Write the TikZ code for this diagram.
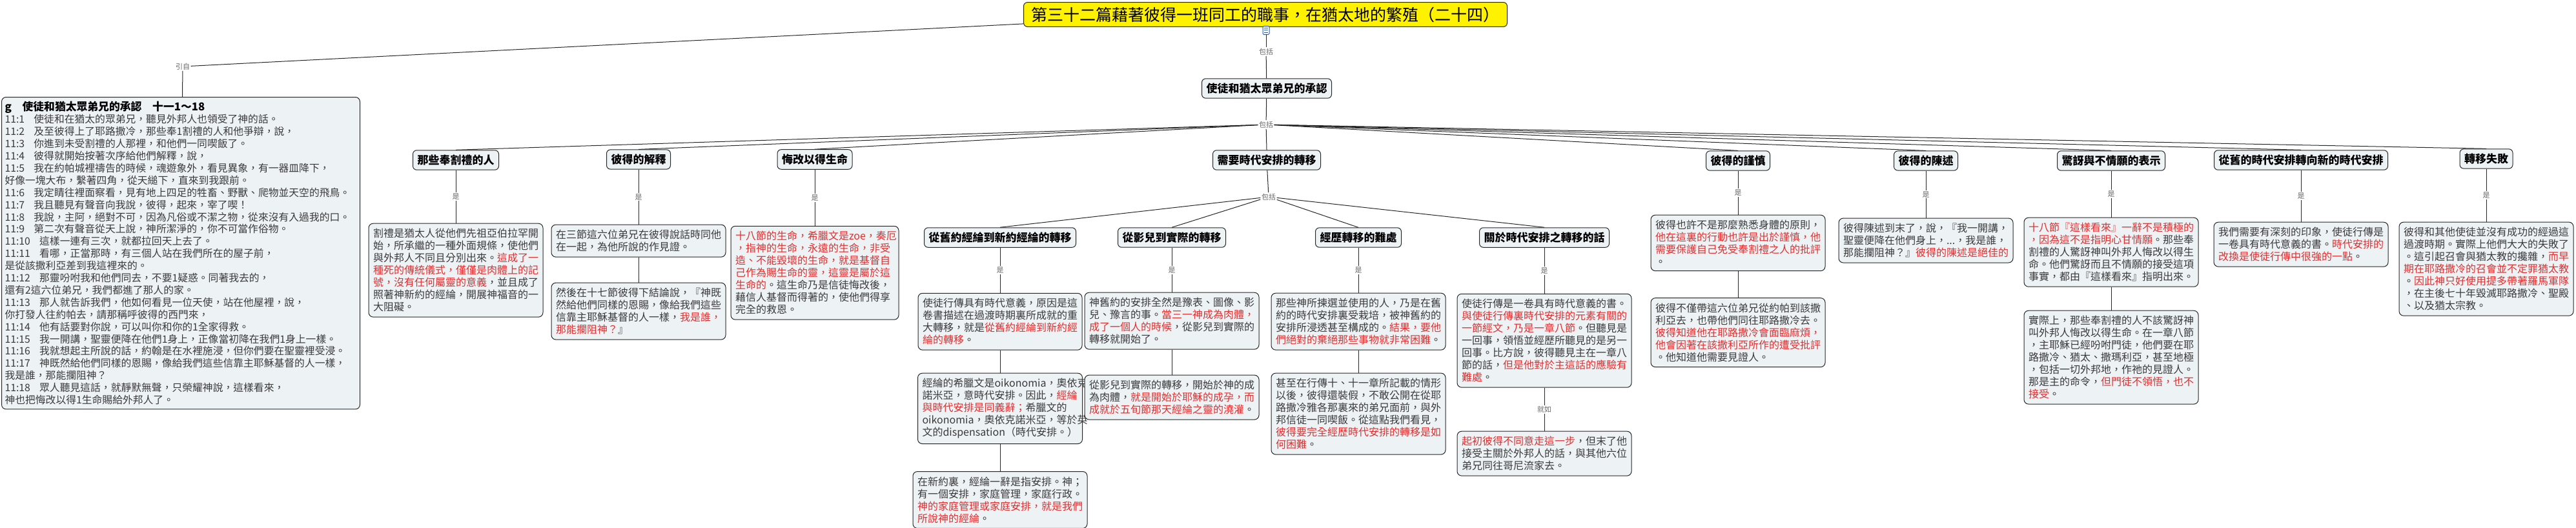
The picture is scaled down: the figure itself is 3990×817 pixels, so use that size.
\documentclass[tikz,border=0pt]{standalone}
\usepackage{fontspec}
\setmainfont{Noto Sans CJK TC}
\usetikzlibrary{positioning}

\definecolor{boxfill}{RGB}{237,242,245}
\definecolor{txtgray}{RGB}{58,58,58}
\definecolor{hlred}{RGB}{228,45,45}
\definecolor{taggray}{RGB}{105,105,105}
\definecolor{iconblue}{RGB}{40,90,170}
\newcommand{\rtxt}[1]{\textcolor{hlred}{#1}}
\newcommand{\vno}[1]{#1\hspace{0.9em}}

\tikzset{
  topicbox/.style={draw=black!85, line width=1pt, rounded corners=6pt, fill=yellow, inner xsep=12pt, inner ysep=7pt, font=\fontsize{25}{28}\selectfont},
  headbox/.style={draw=black!85, line width=1pt, rounded corners=6pt, fill=boxfill, inner xsep=7pt, inner ysep=7pt, font=\bfseries\fontsize{17}{20}\selectfont},
  notebox/.style={draw=black!85, line width=1pt, rounded corners=7pt, fill=boxfill, inner xsep=7pt, inner ysep=8pt, text width=256pt, align=left, text=txtgray, font=\fontsize{16}{19}\selectfont},
  versebox/.style={draw=black!85, line width=1pt, rounded corners=7pt, fill=boxfill, inner xsep=5pt, inner ysep=7pt, text width=545pt, align=left, text=txtgray, font=\fontsize{15.8}{18.9}\selectfont},
  tagtext/.style={fill=white, inner sep=1.5pt, text=taggray, font=\fontsize{11}{12}\selectfont},
  noteico/.style={draw=iconblue, line width=1pt, fill=white, rounded corners=1.5pt, minimum width=10pt, minimum height=13pt, inner sep=0pt},
  linkline/.style={draw=black!85, line width=1pt},
}

\begin{document}
\begin{tikzpicture}[x=1pt, y=-1pt]
\useasboundingbox (0,0) rectangle (3990,817);

\node[topicbox] (root) at (1960,22.5) {第三十二篇藉著彼得一班同工的職事，在猶太地的繁殖（二十四）};
\node[noteico] (icon) at (1961,47) {};
\draw[iconblue, line width=0.7pt] (1958,43) -- (1964,43) (1958,46.5) -- (1964,46.5) (1958,50) -- (1964,50);
\node[tagtext] (inc1) at (1961,80) {包括};
\node[headbox] (hub) at (1962,137) {使徒和猶太眾弟兄的承認};
\node[tagtext] (inc2) at (1961,193) {包括};

\node[tagtext] (quote) at (283,103) {引自};
\node[versebox, anchor=north] (verse) at (280,150) {%
{\color{black}\bfseries\fontsize{16.8}{18.9}\selectfont g\hspace{1em}使徒和猶太眾弟兄的承認\hspace{1em}十一1～18}\\
\vno{11:1}使徒和在猶太的眾弟兄，聽見外邦人也領受了神的話。\\
\vno{11:2}及至彼得上了耶路撒冷，那些奉1割禮的人和他爭辯，說，\\
\vno{11:3}你進到未受割禮的人那裡，和他們一同喫飯了。\\
\vno{11:4}彼得就開始按著次序給他們解釋，說，\\
\vno{11:5}我在約帕城裡禱告的時候，魂遊象外，看見異象，有一器皿降下，\\
好像一塊大布，繫著四角，從天縋下，直來到我跟前。\\
\vno{11:6}我定睛往裡面察看，見有地上四足的牲畜、野獸、爬物並天空的飛鳥。\\
\vno{11:7}我且聽見有聲音向我說，彼得，起來，宰了喫！\\
\vno{11:8}我說，主阿，絕對不可，因為凡俗或不潔之物，從來沒有入過我的口。\\
\vno{11:9}第二次有聲音從天上說，神所潔淨的，你不可當作俗物。\\
\vno{11:10}這樣一連有三次，就都拉回天上去了。\\
\vno{11:11}看哪，正當那時，有三個人站在我們所在的屋子前，\\
是從該撒利亞差到我這裡來的。\\
\vno{11:12}那靈吩咐我和他們同去，不要1疑惑。同著我去的，\\
還有2這六位弟兄，我們都進了那人的家。\\
\vno{11:13}那人就告訴我們，他如何看見一位天使，站在他屋裡，說，\\
你打發人往約帕去，請那稱呼彼得的西門來，\\
\vno{11:14}他有話要對你說，可以叫你和你的1全家得救。\\
\vno{11:15}我一開講，聖靈便降在他們1身上，正像當初降在我們1身上一樣。\\
\vno{11:16}我就想起主所說的話，約翰是在水裡施浸，但你們要在聖靈裡受浸。\\
\vno{11:17}神既然給他們同樣的恩賜，像給我們這些信靠主耶穌基督的人一樣，\\
我是誰，那能攔阻神？\\
\vno{11:18}眾人聽見這話，就靜默無聲，只榮耀神說，這樣看來，\\
神也把悔改以得1生命賜給外邦人了。};

\node[headbox] (h1) at (706,248) {那些奉割禮的人};
\node[headbox] (h2) at (989,247) {彼得的解釋};
\node[headbox] (h3) at (1262,247) {悔改以得生命};
\node[headbox] (h4) at (1962,248) {需要時代安排的轉移};
\node[headbox] (h5) at (2692,249) {彼得的謹慎};
\node[headbox] (h6) at (2983,249) {彼得的陳述};
\node[headbox] (h7) at (3270,249) {驚訝與不情願的表示};
\node[headbox] (h8) at (3564,248) {從舊的時代安排轉向新的時代安排};
\node[headbox] (h9) at (3851,246) {轉移失敗};

\node[tagtext] (inc3) at (1965,305) {包括};
\node[headbox] (s1) at (1549,368) {從舊約經綸到新約經綸的轉移};
\node[headbox] (s2) at (1815,368) {從影兒到實際的轉移};
\node[headbox] (s3) at (2104,368) {經歷轉移的難處};
\node[headbox] (s4) at (2392,368) {關於時代安排之轉移的話};

\node[notebox, below=82pt of h1] (b1) {割禮是猶太人從他們先祖亞伯拉罕開\\
始，所承繼的一種外面規條，使他們\\
與外邦人不同且分別出來。\rtxt{這成了一}\\
\rtxt{種死的傳統儀式，僅僅是肉體上的記}\\
\rtxt{號，沒有任何屬靈的意義}，並且成了\\
照著神新約的經綸，開展神福音的一\\
大阻礙。};
\node[notebox, below=85pt of h2] (b2) {在三節這六位弟兄在彼得說話時同他\\
在一起，為他所說的作見證。};
\node[notebox, below=39pt of b2] (b3) {然後在十七節彼得下結論說，『神既\\
然給他們同樣的恩賜，像給我們這些\\
信靠主耶穌基督的人一樣，\rtxt{我是誰，}\\
\rtxt{那能攔阻神？}』};
\node[notebox, text width=246pt, below=87pt of h3] (b4) {\rtxt{十八節的生命，希臘文是zoe，奏厄}\\
\rtxt{，指神的生命，永遠的生命，非受}\\
\rtxt{造、不能毀壞的生命，就是基督自}\\
\rtxt{己作為賜生命的靈，這靈是屬於這}\\
\rtxt{生命的}。這生命乃是信徒悔改後，\\
藉信人基督而得著的，使他們得享\\
完全的救恩。};

\node[notebox, text width=240pt, below=70pt of s1] (m1) {使徒行傳具有時代意義，原因是這\\
卷書描述在過渡時期裏所成就的重\\
大轉移，就是\rtxt{從舊約經綸到新約經}\\
\rtxt{綸的轉移}。};
\node[notebox, text width=241pt, below=35pt of m1] (m2) {經綸的希臘文是oikonomia，奧依克\\
諾米亞，意時代安排。因此，\rtxt{經綸}\\
\rtxt{與時代安排是同義辭；}希臘文的\\
oikonomia，奧依克諾米亞，等於英\\
文的dispensation（時代安排。）};
\node[notebox, below=42pt of m2] (m3) {在新約裏，經綸一辭是指安排。神；\\
有一個安排，家庭管理，家庭行政。\\
\rtxt{神的家庭管理或家庭安排，就是我們}\\
\rtxt{所說神的經綸}。};
\node[notebox, below=69pt of s2] (m4) {神舊約的安排全然是豫表、圖像、影\\
兒、豫言的事。\rtxt{當三一神成為肉體，}\\
\rtxt{成了一個人的時候}，從影兒到實際的\\
轉移就開始了。};
\node[notebox, below=39pt of m4] (m5) {從影兒到實際的轉移，開始於神的成\\
為肉體，\rtxt{就是開始於耶穌的成孕，而}\\
\rtxt{成就於五旬節那天經綸之靈的澆灌}。};
\node[notebox, below=70pt of s3] (m6) {那些神所揀選並使用的人，乃是在舊\\
約的時代安排裏受栽培，被神舊約的\\
安排所浸透甚至構成的。\rtxt{結果，要他}\\
\rtxt{們絕對的棄絕那些事物就非常困難}。};
\node[notebox, below=35pt of m6] (m7) {甚至在行傳十、十一章所記載的情形\\
以後，彼得還裝假，不敢公開在從耶\\
路撒冷雅各那裏來的弟兄面前，與外\\
邦信徒一同喫飯。從這點我們看見，\\
\rtxt{彼得要完全經歷時代安排的轉移是如}\\
\rtxt{何困難}。};
\node[notebox, below=71pt of s4] (m8) {使徒行傳是一卷具有時代意義的書。\\
\rtxt{與使徒行傳裏時代安排的元素有關的}\\
\rtxt{一節經文，乃是一章八節}。但聽見是\\
一回事，領悟並經歷所聽見的是另一\\
回事。比方說，彼得聽見主在一章八\\
節的話，\rtxt{但是他對於主這話的應驗有}\\
\rtxt{難處}。};
\node[notebox, below=67pt of m8] (m9) {\rtxt{起初彼得不同意走這一步}，但末了他\\
接受主關於外邦人的話，與其他六位\\
弟兄同往哥尼流家去。};

\node[notebox, below=68pt of h5] (r1) {彼得也許不是那麼熟悉身體的原則，\\
\rtxt{他在這裏的行動也許是出於謹慎，他}\\
\rtxt{需要保護自己免受奉割禮之人的批評}\\
。};
\node[notebox, below=41pt of r1] (r2) {彼得不僅帶這六位弟兄從約帕到該撒\\
利亞去，也帶他們同往耶路撒冷去。\\
\rtxt{彼得知道他在耶路撒冷會面臨麻煩，}\\
\rtxt{他會因著在該撒利亞所作的遭受批評}\\
。他知道他需要見證人。};
\node[notebox, below=73pt of h6] (r3) {彼得陳述到末了，說，『我一開講，\\
聖靈便降在他們身上，...，我是誰，\\
那能攔阻神？』\rtxt{彼得的陳述是絕佳的}};
\node[notebox, below=72pt of h7] (r4) {\rtxt{十八節『這樣看來』一辭不是積極的}\\
\rtxt{，因為這不是指明心甘情願}。那些奉\\
割禮的人驚訝神叫外邦人悔改以得生\\
命。他們驚訝而且不情願的接受這項\\
事實，都由『這樣看來』指明出來。};
\node[notebox, below=36pt of r4] (r5) {實際上，那些奉割禮的人不該驚訝神\\
叫外邦人悔改以得生命。在一章八節\\
，主耶穌已經吩咐門徒，他們要在耶\\
路撒冷、猶太、撒瑪利亞，甚至地極\\
，包括一切外邦地，作祂的見證人。\\
那是主的命令，\rtxt{但門徒不領悟，也不}\\
\rtxt{接受}。};
\node[notebox, below=80pt of h8] (r6) {我們需要有深刻的印象，使徒行傳是\\
一卷具有時代意義的書。\rtxt{時代安排的}\\
\rtxt{改換是使徒行傳中很強的一點}。};
\node[notebox, below=82pt of h9] (r7) {彼得和其他使徒並沒有成功的經過這\\
過渡時期。實際上他們大大的失敗了\\
。這引起召會與猶太教的攙雜，\rtxt{而早}\\
\rtxt{期在耶路撒冷的召會並不定罪猶太教}\\
。\rtxt{因此神只好使用提多帶著羅馬軍隊}\\
，在主後七十年毀滅耶路撒冷、聖殿\\
、以及猶太宗教。};

\draw[linkline] (quote) -- ([yshift=5pt]root.south west);
\draw[linkline] (quote) -- (verse);
\draw[linkline] (icon) -- (inc1);
\draw[linkline] (inc1) -- (hub);
\draw[linkline] (hub) -- (inc2);
\foreach \t in {h1,h2,h3,h4,h5,h6,h7,h8,h9}
  \draw[linkline] (inc2) -- (\t.north);
\draw[linkline] (h4) -- (inc3);
\foreach \t in {s1,s2,s3,s4}
  \draw[linkline] (inc3) -- (\t.north);

\draw[linkline] (h1) -- node[tagtext] (is1) {是} (b1);
\draw[linkline] (h2) -- node[tagtext] (is2) {是} (b2);
\draw[linkline] (h3) -- node[tagtext] (is3) {是} (b4);
\draw[linkline] (s1) -- node[tagtext] (is4) {是} (m1);
\draw[linkline] (s2) -- node[tagtext] (is5) {是} (m4);
\draw[linkline] (s3) -- node[tagtext] (is6) {是} (m6);
\draw[linkline] (s4) -- node[tagtext] (is7) {是} (m8);
\draw[linkline] (h5) -- node[tagtext] (is8) {是} (r1);
\draw[linkline] (h6) -- node[tagtext] (is9) {是} (r3);
\draw[linkline] (h7) -- node[tagtext] (is10) {是} (r4);
\draw[linkline] (h8) -- node[tagtext] (is11) {是} (r6);
\draw[linkline] (h9) -- node[tagtext] (is12) {是} (r7);
\draw[linkline] (m8) -- node[tagtext] (like1) {就如} (m9);

\draw[linkline] (b2) -- (b3);
\draw[linkline] (m1) -- (m2);
\draw[linkline] (m2) -- (m3);
\draw[linkline] (m4) -- (m5);
\draw[linkline] (m6) -- (m7);
\draw[linkline] (r1) -- (r2);
\draw[linkline] (r4) -- (r5);
\end{tikzpicture}
\end{document}
